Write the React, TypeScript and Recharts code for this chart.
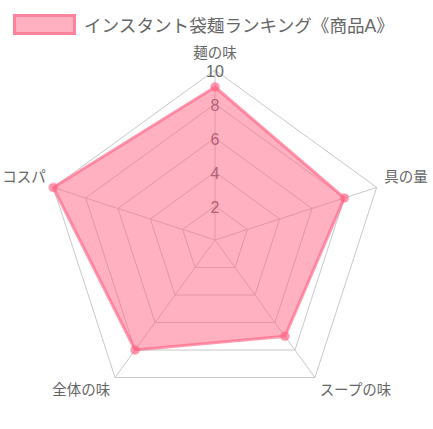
import { PolarAngleAxis, PolarGrid, PolarRadiusAxis, Radar, RadarChart } from 'recharts'

const categories = ['麺の味', '具の量', 'スープの味', '全体の味', 'コスパ']
const scores = [9, 8, 7, 8, 10]
const radiusTicks = [0, 2, 4, 6, 8, 10]
const seriesName = 'インスタント袋麺ランキング《商品A》'

const data = categories.map((name, i) => ({ name, score: scores[i] }))

const FONT = "'Liberation Sans', 'Noto Sans CJK JP', sans-serif"

// nudge the angle labels so they sit like the original
function AngleTick(props: any) {
  const { x, y, payload, textAnchor } = props
  let dy = -8
  if (textAnchor === 'middle') dy = -9
  if (y > 300) dy = 6
  return (
    <text
      x={x}
      y={y + dy}
      textAnchor={textAnchor}
      dominantBaseline="central"
      fontSize={14.5}
      fontFamily={FONT}
      fill="#666"
    >
      {payload.value}
    </text>
  )
}

function RadiusTick(props: any) {
  const { x, y, payload } = props
  if (payload.value === 0) return null
  const top = payload.value === radiusTicks[radiusTicks.length - 1]
  return (
    <text
      x={x}
      y={y + 1}
      textAnchor="middle"
      dominantBaseline="central"
      fontSize={16}
      fontFamily={FONT}
      fill={top ? '#666' : '#b06276'}
    >
      {payload.value}
    </text>
  )
}

export default function App() {
  return (
    <div style={{ position: 'absolute', left: 0, top: 0, width: 433, height: 429, background: '#fff' }}>
      <div
        style={{
          position: 'absolute',
          left: 13,
          top: 12,
          display: 'flex',
          alignItems: 'center',
          fontFamily: FONT,
          fontSize: 17.6,
          color: '#666',
        }}
      >
        <span
          style={{
            display: 'inline-block',
            width: 57,
            height: 15,
            background: 'rgba(255, 99, 132, 0.5)',
            border: '3px solid rgba(255, 99, 132, 0.6)',
            marginRight: 8,
          }}
        />
        <span>{seriesName}</span>
      </div>
      <RadarChart
        width={433}
        height={429}
        data={data}
        cx={215}
        cy={240}
        outerRadius={170}
        margin={{ top: 0, right: 0, bottom: 0, left: 0 }}
      >
        <PolarGrid stroke="#c8c8c8" />
        <PolarAngleAxis dataKey="name" tick={AngleTick} tickLine={false} axisLine={false} />
        <PolarRadiusAxis
          angle={90}
          domain={[0, 10]}
          ticks={radiusTicks as any}
          tickCount={6}
          tick={RadiusTick}
          axisLine={false}
          tickLine={false}
        />
        <Radar
          name={seriesName}
          dataKey="score"
          stroke="rgba(255, 99, 132, 0.65)"
          strokeWidth={3}
          fill="rgba(255, 99, 132, 0.5)"
          fillOpacity={1}
          dot={{ r: 4, fill: 'rgba(255, 99, 132, 0.6)', stroke: 'rgba(255, 99, 132, 0.4)', strokeWidth: 2 }}
          isAnimationActive={false}
        />
      </RadarChart>
    </div>
  )
}
